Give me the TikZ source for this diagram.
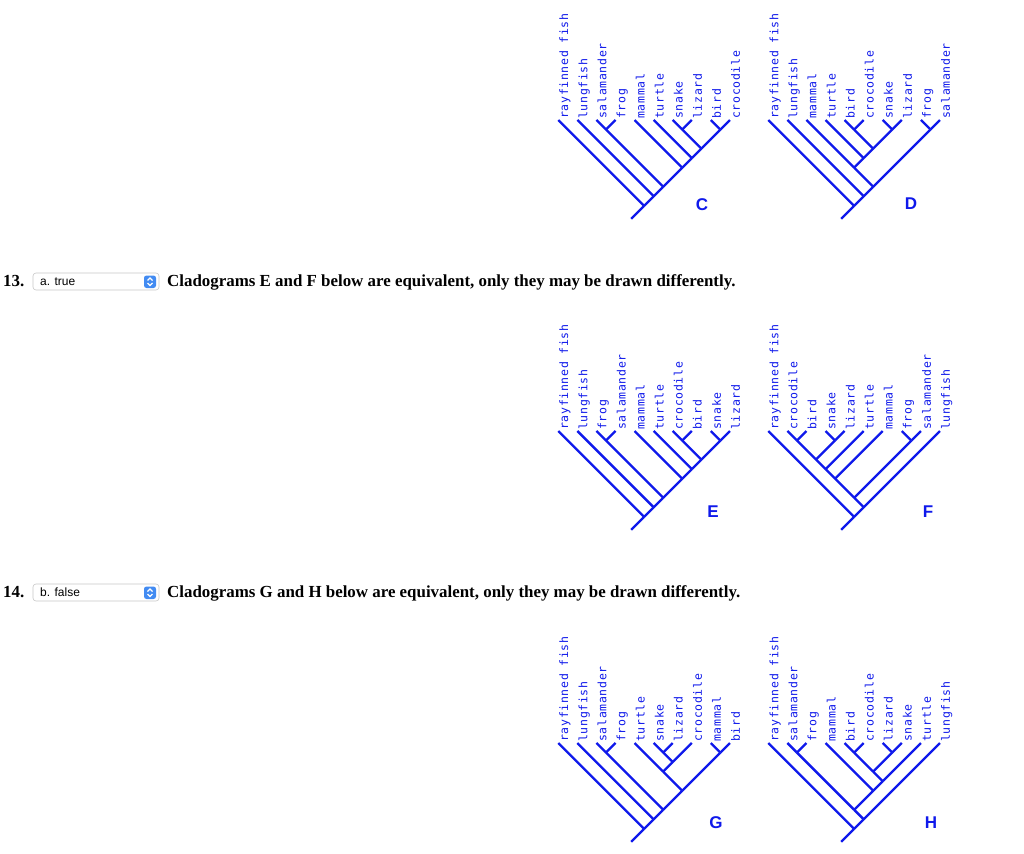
\documentclass[tikz,border=0pt]{standalone}
\usepackage{fontspec}
\setmainfont{Liberation Serif}
\newfontfamily\labelfont[LetterSpace=6]{DejaVu Sans Mono}
\newfontfamily\uifont{Liberation Sans}
\definecolor{cladeblue}{RGB}{15,25,235}
\definecolor{menublue}{RGB}{66,139,242}

\newcommand\tipgap{19.07}
% all branch points of a ten-taxon cladogram, n<i>-<j> spans tips i..j
\newcommand\cladenodes{%
  \foreach \i in {1,...,10} \foreach \j in {\i,...,10}
    \coordinate (n\i-\j) at ({(\i+\j-2)*\tipgap/2},{(\j-\i)*\tipgap/2});
  \coordinate (base) at ({4.5*\tipgap-13},{4.5*\tipgap+13});
}

\begin{document}
\begin{tikzpicture}[x=1pt,y=-1pt,
  branch/.style={cladeblue,line width=2.3pt},
  leaf/.style={rotate=90,anchor=north west,inner sep=1pt,text=cladeblue,
    font=\labelfont\fontsize{11.5}{13}\selectfont},
  letter/.style={text=cladeblue,font=\uifont\bfseries\fontsize{17}{17}\selectfont},
  question/.style={anchor=base west,inner sep=0pt,font=\bfseries\fontsize{16.9}{18}\selectfont},
  answer/.style={anchor=base west,inner sep=0pt,font=\uifont\fontsize{12}{13}\selectfont},
  menu/.style={draw=black!22,fill=white,rounded corners=3pt,line width=0.6pt}]
  \fill[white] (0,0) rectangle (1024,853);
  \useasboundingbox (0,0) rectangle (1024,853);

  % C
  \begin{scope}[shift={(558.3,120)}]
    \cladenodes
    \foreach \name [count=\k] in {rayfinned fish,lungfish,salamander,frog,mammal,turtle,snake,lizard,bird,crocodile}
      \node[leaf] at (n\k-\k) {\name};
    \foreach \p/\c in {1-10/1-1,1-10/2-10,2-10/2-2,2-10/3-10,3-10/3-4,3-10/5-10,3-4/3-3,3-4/4-4,
        5-10/5-5,5-10/6-10,6-10/6-6,6-10/7-10,7-10/7-8,7-10/9-10,7-8/7-7,7-8/8-8,9-10/9-9,9-10/10-10}
      \draw[branch] (n\p) -- (n\c);
    \draw[branch] (n1-10) -- (base);
  \end{scope}
  \node[letter] (C) at (702,205) {C};

  % D
  \begin{scope}[shift={(768.3,120)}]
    \cladenodes
    \foreach \name [count=\k] in {rayfinned fish,lungfish,mammal,turtle,bird,crocodile,snake,lizard,frog,salamander}
      \node[leaf] at (n\k-\k) {\name};
    \foreach \p/\c in {1-10/1-1,1-10/2-10,2-10/2-2,2-10/3-10,3-10/3-8,3-10/9-10,3-8/3-3,3-8/4-8,
        4-8/4-4,4-8/5-8,5-8/5-6,5-8/7-8,5-6/5-5,5-6/6-6,7-8/7-7,7-8/8-8,9-10/9-9,9-10/10-10}
      \draw[branch] (n\p) -- (n\c);
    \draw[branch] (n1-10) -- (base);
  \end{scope}
  \node[letter] (D) at (911,204) {D};

  % question 13
  \node[question] (q13) at (3,286) {13.};
  \draw[menu] (33,273) rectangle (159,290);
  \node[answer] (a13) at (40,285.5) {a. true};
  \fill[menublue,rounded corners=2.5pt] (144,275.5) rectangle (156,288);
  \draw[white,line width=1.1pt] (147.5,280.5) -- (150,278) -- (152.5,280.5)
    (147.5,283) -- (150,285.5) -- (152.5,283);
  \node[question] (t13) at (167,286) {Cladograms E and F below are equivalent, only they may be drawn differently.};

  % E
  \begin{scope}[shift={(558.3,431)}]
    \cladenodes
    \foreach \name [count=\k] in {rayfinned fish,lungfish,frog,salamander,mammal,turtle,crocodile,bird,snake,lizard}
      \node[leaf] at (n\k-\k) {\name};
    \foreach \p/\c in {1-10/1-1,1-10/2-10,2-10/2-2,2-10/3-10,3-10/3-4,3-10/5-10,3-4/3-3,3-4/4-4,
        5-10/5-5,5-10/6-10,6-10/6-6,6-10/7-10,7-10/7-8,7-10/9-10,7-8/7-7,7-8/8-8,9-10/9-9,9-10/10-10}
      \draw[branch] (n\p) -- (n\c);
    \draw[branch] (n1-10) -- (base);
  \end{scope}
  \node[letter] (E) at (713,512) {E};

  % F
  \begin{scope}[shift={(768.3,431)}]
    \cladenodes
    \foreach \name [count=\k] in {rayfinned fish,crocodile,bird,snake,lizard,turtle,mammal,frog,salamander,lungfish}
      \node[leaf] at (n\k-\k) {\name};
    \foreach \p/\c in {1-10/1-1,1-10/2-10,2-10/2-9,2-10/10-10,2-9/2-7,2-9/8-9,2-7/2-6,2-7/7-7,
        2-6/2-5,2-6/6-6,2-5/2-3,2-5/4-5,2-3/2-2,2-3/3-3,4-5/4-4,4-5/5-5,8-9/8-8,8-9/9-9}
      \draw[branch] (n\p) -- (n\c);
    \draw[branch] (n1-10) -- (base);
  \end{scope}
  \node[letter] (F) at (928,512) {F};

  % question 14
  \node[question] (q14) at (3,597) {14.};
  \draw[menu] (33,584) rectangle (159,601);
  \node[answer] (a14) at (40,596.5) {b. false};
  \fill[menublue,rounded corners=2.5pt] (144,586.5) rectangle (156,599);
  \draw[white,line width=1.1pt] (147.5,591.5) -- (150,589) -- (152.5,591.5)
    (147.5,594) -- (150,596.5) -- (152.5,594);
  \node[question] (t14) at (167,597) {Cladograms G and H below are equivalent, only they may be drawn differently.};

  % G
  \begin{scope}[shift={(558.3,743)}]
    \cladenodes
    \foreach \name [count=\k] in {rayfinned fish,lungfish,salamander,frog,turtle,snake,lizard,crocodile,mammal,bird}
      \node[leaf] at (n\k-\k) {\name};
    \foreach \p/\c in {1-10/1-1,1-10/2-10,2-10/2-2,2-10/3-10,3-10/3-4,3-10/5-10,3-4/3-3,3-4/4-4,
        5-10/5-8,5-10/9-10,5-8/5-5,5-8/6-8,6-8/6-7,6-8/8-8,6-7/6-6,6-7/7-7,9-10/9-9,9-10/10-10}
      \draw[branch] (n\p) -- (n\c);
    \draw[branch] (n1-10) -- (base);
  \end{scope}
  \node[letter] (G) at (716,823) {G};

  % H
  \begin{scope}[shift={(768.3,743)}]
    \cladenodes
    \foreach \name [count=\k] in {rayfinned fish,salamander,frog,mammal,bird,crocodile,lizard,snake,turtle,lungfish}
      \node[leaf] at (n\k-\k) {\name};
    \foreach \p/\c in {1-10/1-1,1-10/2-10,2-10/2-9,2-10/10-10,2-9/2-3,2-9/4-9,2-3/2-2,2-3/3-3,
        4-9/4-4,4-9/5-9,5-9/5-8,5-9/9-9,5-8/5-6,5-8/7-8,5-6/5-5,5-6/6-6,7-8/7-7,7-8/8-8}
      \draw[branch] (n\p) -- (n\c);
    \draw[branch] (n1-10) -- (base);
  \end{scope}
  \node[letter] (H) at (931,823) {H};
\end{tikzpicture}
\end{document}
